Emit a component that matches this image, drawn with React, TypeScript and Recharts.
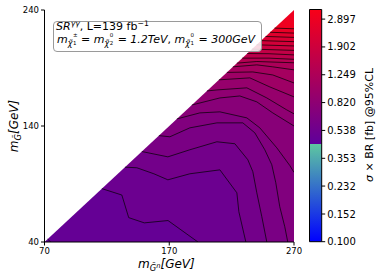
import React from "react";
import { ComposedChart, Area, Line, XAxis, YAxis, ReferenceArea } from "recharts";

const xTicks = [70, 170, 270];
const yTicks = [40, 140, 240];
const barTicks = [0.1, 0.152, 0.232, 0.353, 0.538, 0.82, 1.249, 1.902, 2.897];
const barRange = [0.1, 3.35];
const breakValue = 0.44;

// kinematic edge of the scanned region
const diagonal = [
  { x: 70, y: 40 },
  { x: 270, y: 240 },
];

// contour lines, lowest level first (GeV)
const c00 = [{ x: 72.5, y: 42.5 }, { x: 75, y: 40 }];
const c01 = [{ x: 116, y: 86 }, { x: 132, y: 80.5 }, { x: 137.5, y: 61 }, { x: 150, y: 56.5 }, { x: 169, y: 58.5 }, { x: 193, y: 40 }];
const c02 = [{ x: 134.5, y: 104.5 }, { x: 144, y: 104 }, { x: 157.7, y: 98.8 }, { x: 168.9, y: 93.6 }, { x: 186.5, y: 98.8 }, { x: 210.6, y: 102.2 }, { x: 224.2, y: 82.4 }, { x: 225.8, y: 66.1 }, { x: 231.4, y: 40 }];
const c03 = [{ x: 148, y: 118 }, { x: 168.9, y: 113.4 }, { x: 186.5, y: 119.5 }, { x: 208.2, y: 126.4 }, { x: 222.6, y: 124.7 }, { x: 233, y: 110.9 }, { x: 237, y: 100.6 }, { x: 240.2, y: 82.4 }, { x: 244.2, y: 61.8 }, { x: 248.2, y: 40 }];
const c04 = [{ x: 161.7, y: 131.7 }, { x: 170.5, y: 130.7 }, { x: 186.5, y: 138.4 }, { x: 208.2, y: 142.7 }, { x: 229, y: 142.7 }, { x: 238.6, y: 134.1 }, { x: 246.6, y: 119.5 }, { x: 252.2, y: 106.6 }, { x: 255.4, y: 91.1 }, { x: 258.6, y: 70.4 }, { x: 262.6, y: 53.2 }, { x: 265, y: 40 }];
const c05 = [{ x: 176.1, y: 146.1 }, { x: 194.5, y: 151.3 }, { x: 210.6, y: 152.2 }, { x: 232.2, y: 147 }, { x: 242.6, y: 138.4 }, { x: 256.2, y: 121.2 }, { x: 266.6, y: 106 }, { x: 270, y: 100 }];
const c06 = [{ x: 188.1, y: 158.1 }, { x: 210.6, y: 164.2 }, { x: 226.6, y: 165.9 }, { x: 240.2, y: 160.8 }, { x: 253, y: 151.3 }, { x: 270, y: 140 }];
const c07 = [{ x: 200.2, y: 170.2 }, { x: 208.2, y: 171.1 }, { x: 232.2, y: 172.9 }, { x: 248.2, y: 164.2 }, { x: 264.2, y: 153.9 }, { x: 270, y: 150.5 }];
const c08 = [{ x: 209.8, y: 179.8 }, { x: 234.6, y: 181.5 }, { x: 250.6, y: 173.7 }, { x: 270, y: 165.1 }];
const c09 = [{ x: 216.2, y: 186.2 }, { x: 237, y: 186.6 }, { x: 253, y: 184 }, { x: 270, y: 177.1 }];
const c10 = [{ x: 221, y: 191 }, { x: 240.2, y: 192.7 }, { x: 253, y: 191 }, { x: 270, y: 188.4 }];
const c11 = [{ x: 224.2, y: 194.2 }, { x: 240.2, y: 195.6 }, { x: 270, y: 194.5 }];
const c12 = [{ x: 228.5, y: 198.5 }, { x: 250, y: 198.5 }, { x: 270, y: 197.5 }];
const c13 = [{ x: 232.5, y: 202.5 }, { x: 250, y: 202.3 }, { x: 270, y: 201.3 }];
const c14 = [{ x: 236.3, y: 206.3 }, { x: 270, y: 205.2 }];
const c15 = [{ x: 240, y: 210 }, { x: 270, y: 209 }];
const c16 = [{ x: 243.6, y: 213.6 }, { x: 270, y: 212.7 }];
const c17 = [{ x: 247.2, y: 217.2 }, { x: 270, y: 216.4 }];
const c18 = [{ x: 250.8, y: 220.8 }, { x: 270, y: 220.1 }];
const c19 = [{ x: 254.4, y: 224.4 }, { x: 270, y: 223.8 }];

const contours = [c00, c01, c02, c03, c04, c05, c06, c07, c08, c09, c10, c11, c12, c13, c14, c15, c16, c17, c18, c19];
const levels = [0.46, 0.5, 0.55, 0.6, 0.66, 0.72, 0.79, 0.87, 0.96, 1.06, 1.17, 1.29, 1.42, 1.56, 1.72, 1.9, 2.1, 2.32, 2.56, 2.83];

const FONT = "'DejaVu Sans', sans-serif";

function rgb(r: number, g: number, b: number) {
  return `rgb(${Math.round(r)},${Math.round(g)},${Math.round(b)})`;
}

// blue -> teal below the break, purple -> red above
function cmap(v: number) {
  const l0 = Math.log(barRange[0]);
  const lb = Math.log(breakValue);
  const l1 = Math.log(barRange[1]);
  const lv = Math.log(v);
  if (lv < lb) {
    const t = Math.max(0, (lv - l0) / (lb - l0));
    return rgb(0 + 94 * t, 0 + 200 * t, 255 - 95 * t);
  }
  const t = Math.min(1, (lv - lb) / (l1 - lb));
  return rgb(95 + 153 * t, 0, 155 - 131 * t);
}

function bandColor(i: number) {
  const lo = levels[i];
  const hi = i + 1 < levels.length ? levels[i + 1] : lo * 1.1;
  return cmap(Math.sqrt(lo * hi));
}

const fullSquare = [
  { x: 70, y: 240 },
  { x: 270, y: 240 },
];

const tickStyle = { fontSize: 8.5, fill: "#000", fontFamily: FONT };

// chi-tilde with stacked super/subscript, as in mathtext
function MChi({ sup, sub }: { sup: string; sub: string }) {
  return (
    <span style={{ position: "relative", display: "inline-block" }}>
      <i>m</i>
      <span style={{ fontSize: 8, position: "relative", top: 3 }}>
        <i>χ̃</i>
      </span>
      <span style={{ display: "inline-block", width: 5, position: "relative", height: 10 }}>
        <span style={{ position: "absolute", left: 0.5, top: -1, fontSize: 5.5, lineHeight: "6px" }}>{sup}</span>
        <span style={{ position: "absolute", left: 0.5, top: 7, fontSize: 5.5, lineHeight: "6px" }}>{sub}</span>
      </span>
    </span>
  );
}

function HeatMap() {
  return (
    <ComposedChart width={310} height={278} margin={{ top: 10, right: 16, bottom: 0, left: 0 }}>
      <XAxis
        xAxisId="b"
        type="number"
        dataKey="x"
        domain={[70, 270]}
        ticks={xTicks}
        allowDataOverflow
        height={36}
        axisLine={{ stroke: "#000", strokeWidth: 1 }}
        tickLine={{ stroke: "#000" }}
        tickSize={3.5}
        tick={tickStyle}
        interval={0}
      />
      <XAxis xAxisId="t" orientation="top" type="number" dataKey="x" domain={[70, 270]} height={0} tick={false} tickLine={false} axisLine={{ stroke: "#000", strokeWidth: 1 }} />
      <YAxis
        yAxisId="l"
        type="number"
        dataKey="y"
        domain={[40, 240]}
        ticks={yTicks}
        allowDataOverflow
        width={44.5}
        axisLine={{ stroke: "#000", strokeWidth: 1 }}
        tickLine={{ stroke: "#000" }}
        tickSize={3.5}
        tick={tickStyle}
        interval={0}
      />
      <YAxis yAxisId="r" orientation="right" type="number" dataKey="y" domain={[40, 240]} width={0} tick={false} tickLine={false} axisLine={{ stroke: "#000", strokeWidth: 1 }} />

      <Area xAxisId="b" yAxisId="l" data={fullSquare} dataKey="y" baseValue={40} type="linear" fill={cmap(0.45)} fillOpacity={1} stroke="none" isAnimationActive={false} />
      {contours.map((c, i) => (
        <Area
          key={`band-${i}`}
          xAxisId="b"
          yAxisId="l"
          data={c[c.length - 1].y <= 40 ? [...c, { x: 270, y: 40 }] : c}
          dataKey="y"
          baseValue={240}
          type="linear"
          fill={bandColor(i)}
          fillOpacity={1}
          stroke="none"
          isAnimationActive={false}
        />
      ))}
      <Area xAxisId="b" yAxisId="l" data={diagonal} dataKey="y" baseValue={240} type="linear" fill="#fff" fillOpacity={1} stroke="none" isAnimationActive={false} />
      {contours.map((c, i) => (
        <Line
          key={`line-${i}`}
          xAxisId="b"
          yAxisId="l"
          data={c}
          dataKey="y"
          type="linear"
          stroke="#000"
          strokeWidth={0.7}
          dot={false}
          activeDot={false}
          isAnimationActive={false}
        />
      ))}
    </ComposedChart>
  );
}

function ColorBar() {
  const pos = (Math.log(barRange[1]) - Math.log(breakValue)) / (Math.log(barRange[1]) - Math.log(barRange[0]));
  return (
    <ComposedChart width={81} height={278} margin={{ top: 9.5, right: 0, bottom: 36.3, left: 9.5 }} data={[{ x: 0, y: barRange[0] }, { x: 1, y: barRange[1] }]}>
      <defs>
        <linearGradient id="cbGrad" x1="0" y1="0" x2="0" y2="1">
          <stop offset="0" stopColor={cmap(barRange[1])} />
          <stop offset={pos} stopColor={cmap(breakValue)} />
          <stop offset={pos} stopColor={cmap(breakValue * 0.9999)} />
          <stop offset="1" stopColor={cmap(barRange[0])} />
        </linearGradient>
      </defs>
      <XAxis type="number" dataKey="x" domain={[0, 1]} hide />
      <YAxis
        type="number"
        dataKey="y"
        scale="log"
        domain={barRange}
        allowDataOverflow
        orientation="right"
        ticks={barTicks}
        interval={0}
        width={59.3}
        axisLine={false}
        tickLine={{ stroke: "#000" }}
        tickSize={3.5}
        tickMargin={2}
        tick={{ fontSize: 10, fill: "#000", fontFamily: FONT }}
        tickFormatter={(v: number) => v.toFixed(3)}
      />
      <ReferenceArea x1={0} x2={1} y1={barRange[0]} y2={barRange[1]} fill="url(#cbGrad)" fillOpacity={1} stroke="#000" strokeWidth={1} ifOverflow="visible" />
      <Line dataKey="y" stroke="none" dot={false} activeDot={false} isAnimationActive={false} />
    </ComposedChart>
  );
}

export default function App() {
  return (
    <div style={{ position: "absolute", left: 0, top: 0, width: 381, height: 278, background: "#fff", fontFamily: FONT, color: "#000" }}>
      <div style={{ position: "absolute", left: 0, top: 0 }}>
        <HeatMap />
      </div>
      <div style={{ position: "absolute", left: 300, top: 0 }}>
        <ColorBar />
      </div>

      {/* legend box */}
      <div
        style={{
          position: "absolute",
          left: 52.5,
          top: 21,
          width: 207,
          height: 29,
          border: "1px solid #9a9a9a",
          borderRadius: 4,
          background: "rgba(255,255,255,0.85)",
        }}
      />
      <div style={{ position: "absolute", left: 56, top: 20, fontSize: 11, lineHeight: "13px", whiteSpace: "nowrap" }}>
        <i>SR</i>
        <span style={{ fontSize: "0.7em", verticalAlign: "0.5em", lineHeight: 1 }}>
          <i>γγ</i>
        </span>
        , L=139 fb<span style={{ fontSize: "0.7em", verticalAlign: "0.5em", lineHeight: 1 }}>−1</span>
      </div>
      <div style={{ position: "absolute", left: 57, top: 33, fontSize: 11, lineHeight: "12px", whiteSpace: "nowrap" }}>
        <MChi sup="±" sub="1" />
        <span> = </span>
        <MChi sup="0" sub="2" />
        <span>
          {" "}= <i>1.2TeV</i>,
        </span>{" "}
        <MChi sup="0" sub="1" />
        <span>
          {" "}= <i>300GeV</i>
        </span>
      </div>

      {/* axis titles */}
      <div style={{ position: "absolute", left: 138, top: 257, fontSize: 12, lineHeight: "14px", whiteSpace: "nowrap" }}>
        <i>m</i>
        <span style={{ fontSize: "0.7em", verticalAlign: "-0.3em" }}>
          <i>G̃</i>
          <span style={{ fontSize: "0.8em", verticalAlign: "0.5em" }}>
            <i>n</i>
          </span>
        </span>
        <i>[GeV]</i>
      </div>
      <div
        style={{
          position: "absolute",
          left: 16,
          top: 126,
          fontSize: 12,
          lineHeight: "14px",
          whiteSpace: "nowrap",
          transform: "translate(-50%, -50%) rotate(-90deg)",
        }}
      >
        <i>m</i>
        <span style={{ fontSize: "0.7em", verticalAlign: "-0.3em" }}>
          <i>G̃</i>
        </span>
        <i>[GeV]</i>
      </div>
      <div
        style={{
          position: "absolute",
          left: 369,
          top: 125,
          fontSize: 11,
          lineHeight: "13px",
          whiteSpace: "nowrap",
          transform: "translate(-50%, -50%) rotate(-90deg)",
        }}
      >
        <i>σ</i> × BR [fb] @95%CL
      </div>
    </div>
  );
}
